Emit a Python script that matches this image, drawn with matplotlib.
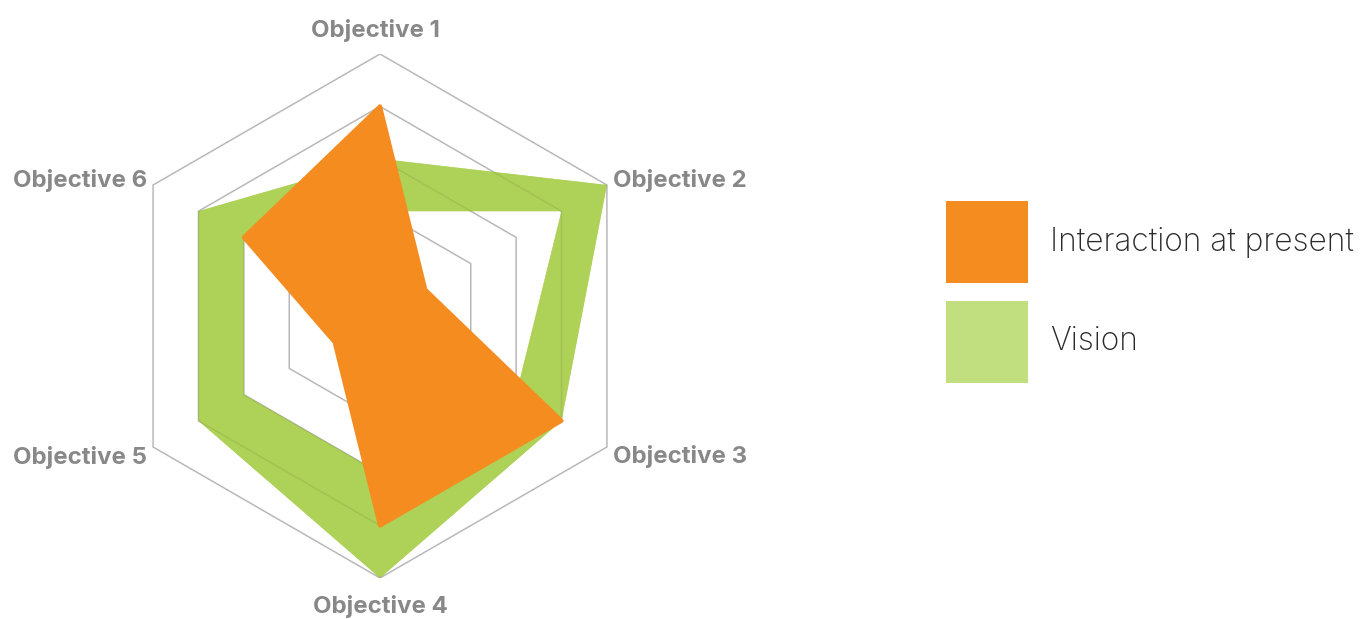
import numpy as np
import matplotlib
matplotlib.use("Agg")
import matplotlib.pyplot as plt
from matplotlib.patches import Polygon, Rectangle, PathPatch
from matplotlib.path import Path

categories = ["Objective 1", "Objective 2", "Objective 3", "Objective 4", "Objective 5", "Objective 6"]
present = [4, 1, 4, 4, 1, 3]
vision_outer = [3, 5, 4, 5, 4, 4]
vision_inner = [2, 4, 3, 3, 3, 3]
ring_levels = [1, 2, 3, 4, 5]
legend_labels = ["Interaction at present", "Vision"]

c_orange = "#F58C20"
c_green = "#AED158"
c_green_leg = "#C2DF80"
c_label = "#888888"

W, H = 1360, 619
fig = plt.figure(figsize=(W / 100, H / 100), dpi=100)
fig.patch.set_facecolor("white")

cx, cy, R = 380, 316, 262
ax = fig.add_axes([(cx - R) / W, (H - cy - R) / H, 2 * R / W, 2 * R / H])
ax.set_xlim(-5, 5)
ax.set_ylim(-5, 5)
ax.axis("off")

n = len(categories)
ang = np.pi / 2 - np.arange(n) * 2 * np.pi / n


def pts(vals):
    v = np.asarray(vals, float)
    return np.column_stack([v * np.cos(ang), v * np.sin(ang)])


def ring_path(p):
    verts = np.vstack([p, p[:1]])
    codes = [Path.MOVETO] + [Path.LINETO] * (len(p) - 1) + [Path.CLOSEPOLY]
    return verts, codes


ov, oc = ring_path(pts(vision_outer))
iv, ic = ring_path(pts(vision_inner)[::-1])
band_path = Path(np.vstack([ov, iv]), oc + ic)

ax.add_patch(PathPatch(band_path, facecolor=c_green, edgecolor="none", zorder=1))
for lv in ring_levels:
    ax.add_patch(Polygon(pts([lv] * n), closed=True, facecolor="none",
                         edgecolor=(0, 0, 0, 0.28), linewidth=1.1, zorder=3))
# translucent veil so the grid shows only faintly inside the green band
ax.add_patch(PathPatch(band_path, facecolor=c_green, edgecolor="none", alpha=0.75, zorder=3.5))
ax.add_patch(Polygon(pts(present), closed=True, facecolor=c_orange, edgecolor=c_orange,
                     linewidth=3, joinstyle="round", zorder=4))

outer = pts([5] * n)
offs = [(-5, 24, "center", "center"), (6, 4, "left", "center"), (6, -10, "left", "center"),
        (0, -28, "center", "center"), (-6, -10, "right", "center"), (-6, 4, "right", "center")]
for (x, y), lab, (dx, dy, ha, va) in zip(outer, categories, offs):
    ax.annotate(lab, (x, y), xytext=(dx, dy), textcoords="offset pixels", ha=ha, va=va,
                fontsize=17.3, fontweight="bold", color=c_label, family="Inter",
                annotation_clip=False)

# legend
for i, (lab, col) in enumerate(zip(legend_labels, [c_orange, c_green_leg])):
    y0 = 201 + i * 100
    fig.patches.append(Rectangle((946 / W, (H - y0 - 82) / H), 82 / W, 82 / H,
                                 transform=fig.transFigure, facecolor=col, edgecolor="none"))
    fig.text(1050 / W, (H - y0 - 41) / H, lab, ha="left", va="center", fontsize=22.8,
             color="#2a2a2a", family="Inter", fontweight="light")

fig.savefig("out.png", dpi=100)
